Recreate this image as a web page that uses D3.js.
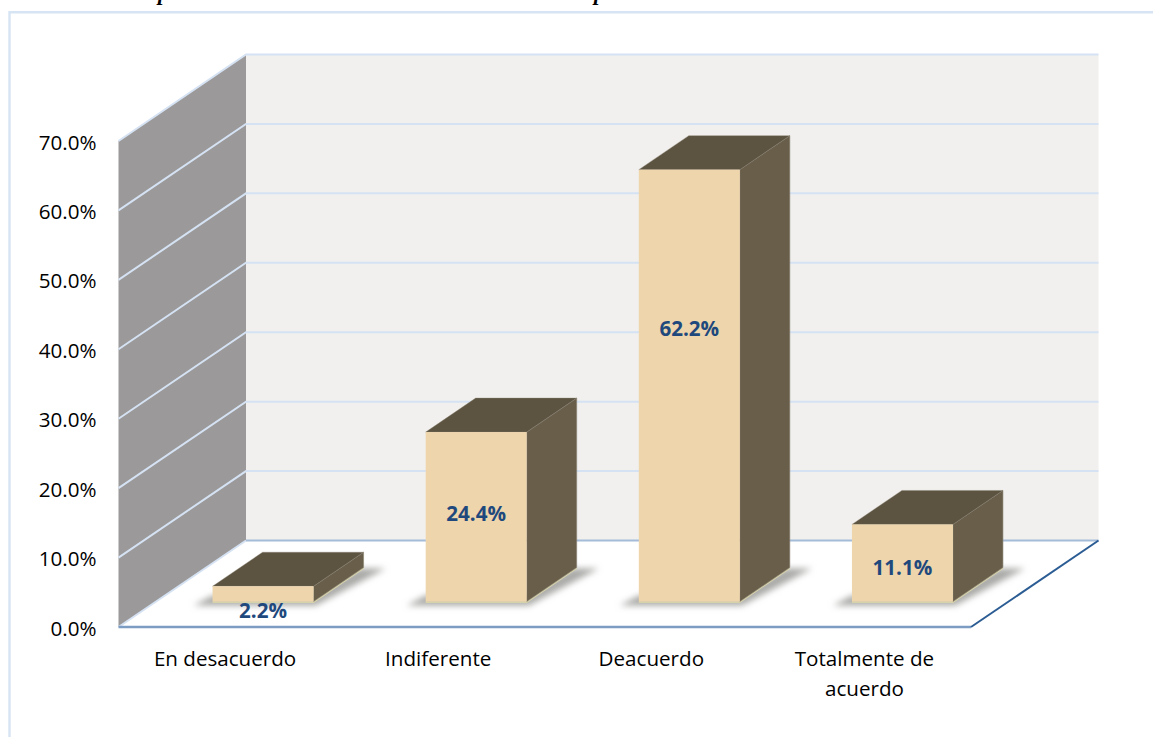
<!DOCTYPE html>
<html><head><meta charset="utf-8">
<script src="https://cdn.jsdelivr.net/npm/d3@7"></script>
<style>html,body{margin:0;padding:0;background:#fff;overflow:hidden}svg{display:block}</style>
</head><body><svg id="c" width="1153" height="737"></svg>
<script>
const categories = ["En desacuerdo", "Indiferente", "Deacuerdo", "Totalmente de acuerdo"];
const values = [2.2, 24.4, 62.2, 11.1];
const labels = ["2.2%", "24.4%", "62.2%", "11.1%"];
const yTicks = [0, 10, 20, 30, 40, 50, 60, 70];

// layout constants
const W = 1153, H = 737;
const plot = {x0: 118.5, x1: 971, y0: 627, y1: 141};
const depth = {dx: 127.5, dy: -86.5};
const barDepth = {dx: 50, dy: -34};
const barShift = {dx: 38, dy: -25.5};
const barW = 101;
const labelNudgeY = [0, -2, -56, 6];
const FONT = "'Open Sans', 'Noto Sans', sans-serif";
const FS = 20.6;

const svg = d3.select("#c");
const defs = svg.append("defs");
defs.append("filter").attr("id","blur").attr("x","-20%").attr("y","-50%").attr("width","140%").attr("height","200%")
  .append("feGaussianBlur").attr("stdDeviation",3.4);
defs.append("filter").attr("id","blur2").attr("x","-5%").attr("y","-5%").attr("width","110%").attr("height","110%")
  .append("feGaussianBlur").attr("stdDeviation",1.6);

const y = d3.scaleLinear().domain([0,70]).range([plot.y0, plot.y1]);
const x = d3.scaleBand().domain(categories).range([plot.x0, plot.x1]);
const poly = pts => "M" + pts.map(p => p.join(",")).join("L") + "Z";

// clipped line of caption above the frame
const capt = svg.append("g").attr("font-family","'Liberation Serif',serif").attr("font-style","italic").attr("font-weight","bold").attr("font-size",22).attr("fill","#000");
capt.append("text").attr("x",158).attr("y",0).text("p");
capt.append("text").attr("x",594).attr("y",0).text("p");

// frame
svg.append("path").attr("d",`M7,16V${H+5}`).attr("stroke","#c4c4c0").attr("stroke-width",3.5).attr("fill","none").attr("filter","url(#blur2)");
svg.append("path").attr("d",`M${W+5},12.2H9.5V${H+5}`).attr("stroke","#d6e4f4").attr("stroke-width",2.4).attr("fill","none");

// walls
const back = {x0: plot.x0 + depth.dx, x1: plot.x1 + depth.dx};
svg.append("rect").attr("x",back.x0).attr("y",y(70)+depth.dy).attr("width",back.x1-back.x0).attr("height",y(0)-y(70)).attr("fill","#f1f0ee");
svg.append("path").attr("d",poly([[plot.x0,y(70)],[back.x0,y(70)+depth.dy],[back.x0,y(0)+depth.dy],[plot.x0,y(0)]])).attr("fill","#9b9999");

// gridlines through the wall and the back plane
const grid = svg.append("g").selectAll("g").data(yTicks.filter(d => d>0)).join("g");
grid.append("path").attr("d",d => `M${plot.x0},${y(d)}L${back.x0},${y(d)+depth.dy}H${back.x1}`)
  .attr("fill","none").attr("stroke","#d5e2f3").attr("stroke-width",2);

// floor edges
svg.append("path").attr("d",`M${plot.x0},${y(0)}L${back.x0},${y(0)+depth.dy}`).attr("stroke","#d5e2f3").attr("stroke-width",2).attr("fill","none");
svg.append("path").attr("d",`M${back.x0},${y(0)+depth.dy}H${back.x1}`).attr("stroke","#a5bcd9").attr("stroke-width",2).attr("fill","none");
svg.append("path").attr("d",`M${plot.x0},${y(0)}H${plot.x1}`).attr("stroke","#7d9cc4").attr("stroke-width",2.4).attr("fill","none");
svg.append("path").attr("d",`M${plot.x1},${y(0)}L${back.x1},${y(0)+depth.dy}`).attr("stroke","#2b5c93").attr("stroke-width",2).attr("fill","none");

// bars
const barX = c => x(c) + (x.bandwidth()-barW)/2 + barShift.dx;
const base = y(0) + barShift.dy;
const h = v => y(0) - y(v);
const bars = svg.append("g").selectAll("g").data(categories.map((c,i)=>({c,v:values[i],l:labels[i],i}))).join("g");

bars.append("path").attr("fill","#a8a8a6").attr("filter","url(#blur)")
  .attr("d",d => { const a=barX(d.c), b=a+barW;
    return poly([[a-19,base+4],[b+2,base+4],[b+barDepth.dx+22,base+barDepth.dy+1],[b+barDepth.dx-4,base+barDepth.dy+1],[b,base-6],[a,base-6]]); });
bars.append("path").attr("fill","none").attr("stroke","#d6d2aa").attr("stroke-width",1.6)
  .attr("d",d => { const a=barX(d.c), b=a+barW;
    return `M${a},${base+0.6}H${b}L${b+barDepth.dx},${base+barDepth.dy+0.6}`; });
bars.append("path").attr("fill","#685e4a").attr("stroke","#8b8373").attr("stroke-width",0.6)
  .attr("d",d => { const b=barX(d.c)+barW, t=base-h(d.v);
    return poly([[b,base],[b+barDepth.dx,base+barDepth.dy],[b+barDepth.dx,t+barDepth.dy],[b,t]]); });
bars.append("path").attr("fill","#5c5340").attr("stroke","#8b8373").attr("stroke-width",0.4)
  .attr("d",d => { const a=barX(d.c), b=a+barW, t=base-h(d.v);
    return poly([[a,t],[b,t],[b+barDepth.dx,t+barDepth.dy],[a+barDepth.dx,t+barDepth.dy]]); });
bars.append("rect").attr("fill","#eed5ab")
  .attr("x",d=>barX(d.c)).attr("y",d=>base-h(d.v)).attr("width",barW).attr("height",d=>h(d.v));
bars.append("text").attr("font-family",FONT).attr("font-weight","bold").attr("font-size",FS).attr("fill","#1f497d")
  .attr("text-anchor","middle")
  .attr("x",d=>barX(d.c)+barW/2)
  .attr("y",d=> d.v < 5 ? base+16.5 : base-h(d.v)/2+6.5+labelNudgeY[d.i])
  .text(d=>d.l);

// axes
const yAxis = d3.axisLeft(y).tickValues(yTicks).tickSize(0).tickPadding(0).tickFormat(d=>d3.format(".1f")(d)+"%");
const ya = svg.append("g").attr("transform","translate(96.5,1.5)").call(yAxis);
ya.select(".domain").remove();
ya.selectAll("text").attr("font-family",FONT).attr("font-size",FS).attr("fill","#000");

const xAxis = d3.axisBottom(x).tickSize(0).tickFormat("");
const xa = svg.append("g").attr("transform",`translate(0,${plot.y0})`).call(xAxis);
xa.select(".domain").remove();
const wrap = {"Totalmente de acuerdo":["Totalmente de","acuerdo"]};
xa.selectAll(".tick").each(function(c){
  const lines = wrap[c] || [c];
  const t = d3.select(this).select("text").attr("font-family",FONT).attr("font-size",FS).attr("fill","#000")
    .attr("text-anchor","middle").attr("y",0).attr("dy",null);
  t.selectAll("tspan").data(lines).join("tspan").attr("x",0).attr("y",(d,k)=>39+k*29.5).text(d=>d);
});
</script></body></html>
